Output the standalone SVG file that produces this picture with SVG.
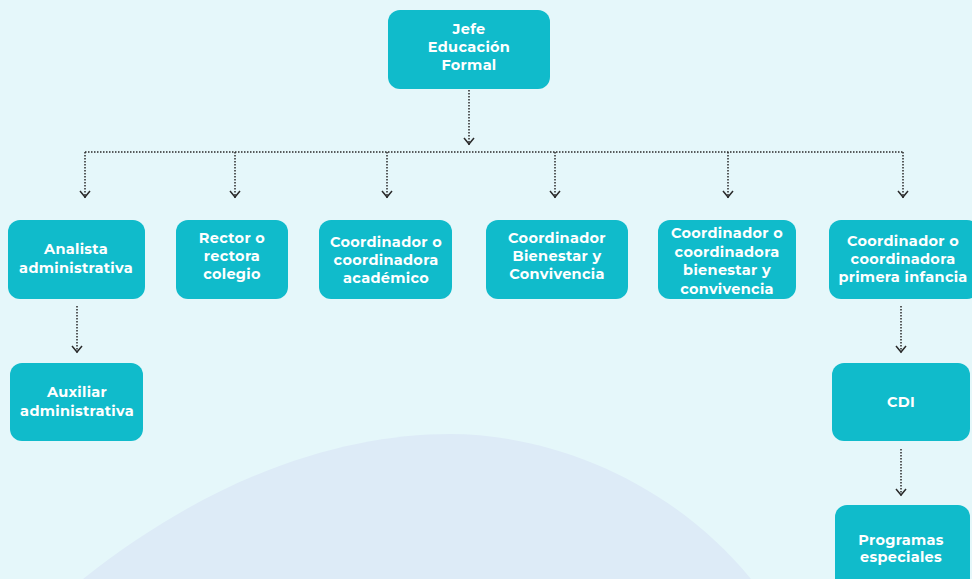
<svg xmlns="http://www.w3.org/2000/svg" width="972" height="579" viewBox="0 0 972 579">
<defs>
<style>
.box{fill:#10bbcb;}
.t{font-family:"Montserrat","Open Sans","Liberation Sans",sans-serif;font-weight:700;font-size:14.5px;letter-spacing:0.3px;fill:#ffffff;text-anchor:middle;}
.c{fill:none;stroke:#2a2a2a;stroke-width:1.5;stroke-dasharray:1.5 1.5;}
.h{fill:none;stroke:#2a2a2a;stroke-width:1.5;}
</style>
</defs>
<rect x="0" y="0" width="972" height="579" fill="#e5f7fa"/>
<path d="M83 579 C220 470 350 434 450 434 C550 434 670 480 751 579 Z" fill="#ddebf7"/>
<g id="connectors">
<path class="c" d="M469 90 V145"/>
<path class="h" d="M464 138 L469 144 L474 138"/>
<path class="c" d="M85 152 H903"/>
<path class="c" d="M85 152 V198"/><path class="h" d="M80 191 L85 197 L90 191"/>
<path class="c" d="M235 152 V198"/><path class="h" d="M230 191 L235 197 L240 191"/>
<path class="c" d="M387 152 V198"/><path class="h" d="M382 191 L387 197 L392 191"/>
<path class="c" d="M555 152 V198"/><path class="h" d="M550 191 L555 197 L560 191"/>
<path class="c" d="M728 152 V198"/><path class="h" d="M723 191 L728 197 L733 191"/>
<path class="c" d="M903 152 V198"/><path class="h" d="M898 191 L903 197 L908 191"/>
<path class="c" d="M77 306 V353"/><path class="h" d="M72 346 L77 352 L82 346"/>
<path class="c" d="M901 306 V353"/><path class="h" d="M896 346 L901 352 L906 346"/>
<path class="c" d="M901 449 V496"/><path class="h" d="M896 489 L901 495 L906 489"/>
</g>
<g id="jefe"><rect class="box" x="388" y="10" width="162" height="79" rx="12"/>
<text class="t" x="469" y="34">Jefe</text><text class="t" x="469" y="52">Educación</text><text class="t" x="469" y="70">Formal</text></g>
<g id="analista"><rect class="box" x="8" y="220" width="137" height="79" rx="12"/>
<text class="t" x="76" y="254">Analista</text><text class="t" x="76" y="273">administrativa</text></g>
<g id="rector"><rect class="box" x="176" y="220" width="112" height="79" rx="12"/>
<text class="t" x="232" y="243">Rector o</text><text class="t" x="232" y="261">rectora</text><text class="t" x="232" y="279">colegio</text></g>
<g id="academico"><rect class="box" x="319" y="220" width="133" height="79" rx="12"/>
<text class="t" x="386" y="247">Coordinador o</text><text class="t" x="386" y="265">coordinadora</text><text class="t" x="386" y="283">académico</text></g>
<g id="bienestar"><rect class="box" x="486" y="220" width="142" height="79" rx="12"/>
<text class="t" x="557" y="243">Coordinador</text><text class="t" x="557" y="261">Bienestar y</text><text class="t" x="557" y="279">Convivencia</text></g>
<g id="convivencia"><rect class="box" x="658" y="220" width="138" height="79" rx="12"/>
<text class="t" x="727" y="238">Coordinador o</text><text class="t" x="727" y="257">coordinadora</text><text class="t" x="727" y="275">bienestar y</text><text class="t" x="727" y="294">convivencia</text></g>
<g id="primera"><rect class="box" x="829" y="220" width="150" height="79" rx="12"/>
<text class="t" x="903" y="246">Coordinador o</text><text class="t" x="903" y="264">coordinadora</text><text class="t" x="903" y="282">primera infancia</text></g>
<g id="auxiliar"><rect class="box" x="10" y="363" width="133" height="78" rx="12"/>
<text class="t" x="77" y="397">Auxiliar</text><text class="t" x="77" y="416">administrativa</text></g>
<g id="cdi"><rect class="box" x="832" y="363" width="138" height="78" rx="12"/>
<text class="t" x="901" y="407">CDI</text></g>
<g id="programas"><rect class="box" x="835" y="505" width="135" height="90" rx="12"/>
<text class="t" x="901" y="545">Programas</text><text class="t" x="901" y="562">especiales</text></g>
</svg>
